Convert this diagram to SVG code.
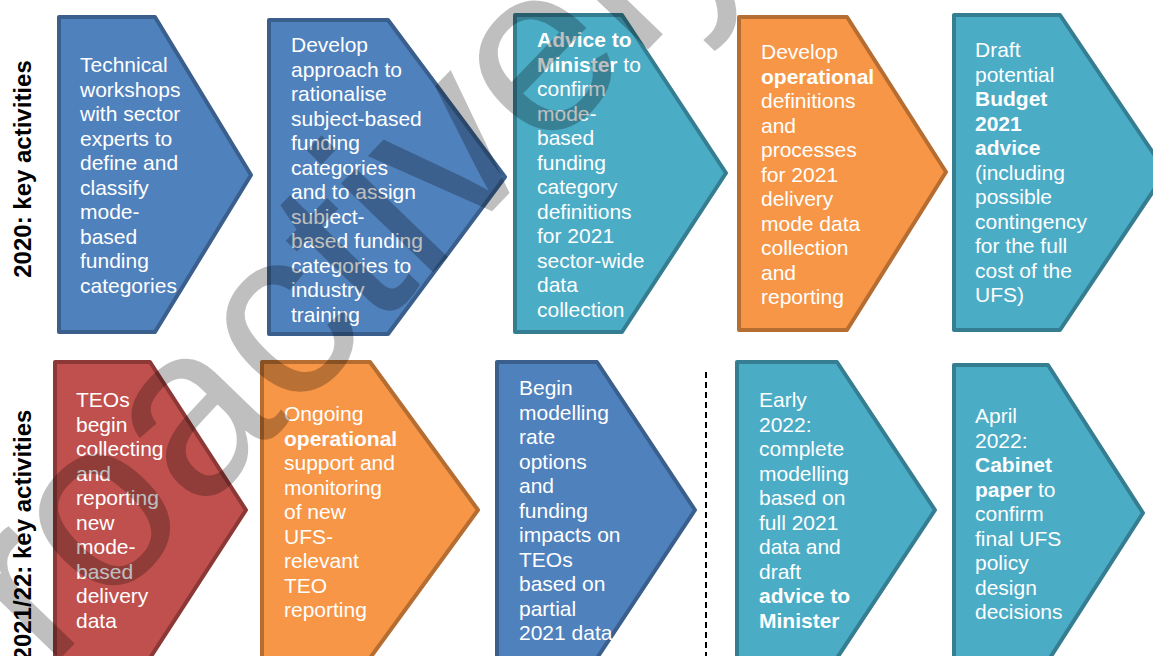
<svg xmlns="http://www.w3.org/2000/svg" width="1153" height="656" viewBox="0 0 1153 656">
  <style>
    .shape { stroke-width: 4; stroke-linejoin: round; }
    .blue { fill: #4F81BD; stroke: #3A5F8C; }
    .teal { fill: #4BACC6; stroke: #357D91; }
    .orange { fill: #F79646; stroke: #B66D31; }
    .red { fill: #C0504D; stroke: #8C3836; }
    .lbl { font-family: "Liberation Sans", Arial, sans-serif; font-size: 21px; fill: #FFFFFF; }
    .b { font-weight: bold; }
    .row { font-family: "Liberation Sans", Arial, sans-serif; font-size: 24px; font-weight: bold; fill: #000000; }
    .mark { font-family: "Liberation Sans", Arial, sans-serif; font-size: 242px; fill: #000000; fill-opacity: 0.25; }
  </style>

  <rect width="1153" height="656" fill="#FFFFFF"/>

  <!-- row headings -->
  <text class="row" text-anchor="middle" transform="translate(31,169) rotate(-90)">2020: key activities</text>
  <text class="row" text-anchor="middle" transform="translate(31,535) rotate(-90)">2021/22: key activities</text>

  <!-- 2020 row -->
  <g id="a1">
    <polygon class="shape blue" points="59,17 155,17 251,175 155,332 59,332"/>
    <text class="lbl"><tspan x="80" y="72">Technical</tspan><tspan x="80" dy="24.5">workshops</tspan><tspan x="80" dy="24.5">with sector</tspan><tspan x="80" dy="24.5">experts to</tspan><tspan x="80" dy="24.5">define and</tspan><tspan x="80" dy="24.5">classify</tspan><tspan x="80" dy="24.5">mode-</tspan><tspan x="80" dy="24.5">based</tspan><tspan x="80" dy="24.5">funding</tspan><tspan x="80" dy="24.5">categories</tspan></text>
  </g>
  <g id="a2">
    <polygon class="shape blue" points="269,20 388,20 505,177 388,334 269,334"/>
    <text class="lbl"><tspan x="291" y="52">Develop</tspan><tspan x="291" dy="24.5">approach to</tspan><tspan x="291" dy="24.5">rationalise</tspan><tspan x="291" dy="24.5">subject-based</tspan><tspan x="291" dy="24.5">funding</tspan><tspan x="291" dy="24.5">categories</tspan><tspan x="291" dy="24.5">and to assign</tspan><tspan x="291" dy="24.5">subject-</tspan><tspan x="291" dy="24.5">based funding</tspan><tspan x="291" dy="24.5">categories to</tspan><tspan x="291" dy="24.5">industry</tspan><tspan x="291" dy="24.5">training</tspan></text>
  </g>
  <g id="a3">
    <polygon class="shape teal" points="515,15 622,15 726,173 622,332 515,332"/>
    <text class="lbl"><tspan x="537" y="47" class="b">Advice to</tspan><tspan x="537" dy="24.5"><tspan class="b">Minister</tspan> to</tspan><tspan x="537" dy="24.5">confirm</tspan><tspan x="537" dy="24.5">mode-</tspan><tspan x="537" dy="24.5">based</tspan><tspan x="537" dy="24.5">funding</tspan><tspan x="537" dy="24.5">category</tspan><tspan x="537" dy="24.5">definitions</tspan><tspan x="537" dy="24.5">for 2021</tspan><tspan x="537" dy="24.5">sector-wide</tspan><tspan x="537" dy="24.5">data</tspan><tspan x="537" dy="24.5">collection</tspan></text>
  </g>
  <g id="a4">
    <polygon class="shape orange" points="739,17 847,17 946,172 847,330 739,330"/>
    <text class="lbl"><tspan x="761" y="59">Develop</tspan><tspan x="761" dy="24.5" class="b">operational</tspan><tspan x="761" dy="24.5">definitions</tspan><tspan x="761" dy="24.5">and</tspan><tspan x="761" dy="24.5">processes</tspan><tspan x="761" dy="24.5">for 2021</tspan><tspan x="761" dy="24.5">delivery</tspan><tspan x="761" dy="24.5">mode data</tspan><tspan x="761" dy="24.5">collection</tspan><tspan x="761" dy="24.5">and</tspan><tspan x="761" dy="24.5">reporting</tspan></text>
  </g>
  <g id="a5">
    <polygon class="shape teal" points="954,15 1060,15 1166,172 1060,330 954,330"/>
    <text class="lbl"><tspan x="975" y="57">Draft</tspan><tspan x="975" dy="24.5">potential</tspan><tspan x="975" dy="24.5" class="b">Budget</tspan><tspan x="975" dy="24.5" class="b">2021</tspan><tspan x="975" dy="24.5" class="b">advice</tspan><tspan x="975" dy="24.5">(including</tspan><tspan x="975" dy="24.5">possible</tspan><tspan x="975" dy="24.5">contingency</tspan><tspan x="975" dy="24.5">for the full</tspan><tspan x="975" dy="24.5">cost of the</tspan><tspan x="975" dy="24.5">UFS)</tspan></text>
  </g>

  <!-- 2021/22 row -->
  <g id="b1">
    <polygon class="shape red" points="55,362 150,362 246,510 150,658 55,658"/>
    <text class="lbl"><tspan x="76" y="407">TEOs</tspan><tspan x="76" dy="24.5">begin</tspan><tspan x="76" dy="24.5">collecting</tspan><tspan x="76" dy="24.5">and</tspan><tspan x="76" dy="24.5">reporting</tspan><tspan x="76" dy="24.5">new</tspan><tspan x="76" dy="24.5">mode-</tspan><tspan x="76" dy="24.5">based</tspan><tspan x="76" dy="24.5">delivery</tspan><tspan x="76" dy="24.5">data</tspan></text>
  </g>
  <g id="b2">
    <polygon class="shape orange" points="262,362 370,362 478,510 370,658 262,658"/>
    <text class="lbl"><tspan x="284" y="421">Ongoing</tspan><tspan x="284" dy="24.5" class="b">operational</tspan><tspan x="284" dy="24.5">support and</tspan><tspan x="284" dy="24.5">monitoring</tspan><tspan x="284" dy="24.5">of new</tspan><tspan x="284" dy="24.5">UFS-</tspan><tspan x="284" dy="24.5">relevant</tspan><tspan x="284" dy="24.5">TEO</tspan><tspan x="284" dy="24.5">reporting</tspan></text>
  </g>
  <g id="b3">
    <polygon class="shape blue" points="497,362 597,362 695,510 597,658 497,658"/>
    <text class="lbl"><tspan x="519" y="395">Begin</tspan><tspan x="519" dy="24.5">modelling</tspan><tspan x="519" dy="24.5">rate</tspan><tspan x="519" dy="24.5">options</tspan><tspan x="519" dy="24.5">and</tspan><tspan x="519" dy="24.5">funding</tspan><tspan x="519" dy="24.5">impacts on</tspan><tspan x="519" dy="24.5">TEOs</tspan><tspan x="519" dy="24.5">based on</tspan><tspan x="519" dy="24.5">partial</tspan><tspan x="519" dy="24.5">2021 data</tspan></text>
  </g>
  <g id="b4">
    <polygon class="shape teal" points="737,362 837,362 935,510 837,658 737,658"/>
    <text class="lbl"><tspan x="759" y="407">Early</tspan><tspan x="759" dy="24.5">2022:</tspan><tspan x="759" dy="24.5">complete</tspan><tspan x="759" dy="24.5">modelling</tspan><tspan x="759" dy="24.5">based on</tspan><tspan x="759" dy="24.5">full 2021</tspan><tspan x="759" dy="24.5">data and</tspan><tspan x="759" dy="24.5">draft</tspan><tspan x="759" dy="24.5" class="b">advice to</tspan><tspan x="759" dy="24.5" class="b">Minister</tspan></text>
  </g>
  <g id="b5">
    <polygon class="shape teal" points="954,365 1048,365 1143,513 1048,661 954,661"/>
    <text class="lbl"><tspan x="975" y="423">April</tspan><tspan x="975" dy="24.5">2022:</tspan><tspan x="975" dy="24.5" class="b">Cabinet</tspan><tspan x="975" dy="24.5"><tspan class="b">paper</tspan> to</tspan><tspan x="975" dy="24.5">confirm</tspan><tspan x="975" dy="24.5">final UFS</tspan><tspan x="975" dy="24.5">policy</tspan><tspan x="975" dy="24.5">design</tspan><tspan x="975" dy="24.5">decisions</tspan></text>
  </g>

  <!-- dashed divider between the 2021 and 2022 steps -->
  <g id="connectors">
    <line x1="706" y1="372" x2="706" y2="656" stroke="#000000" stroke-width="2" stroke-dasharray="6 4"/>
  </g>

  <!-- release watermark, laid over everything -->
  <g id="watermark">
    <text class="mark" transform="translate(-64,787) rotate(-46)">Proactively</text>
  </g>
</svg>
